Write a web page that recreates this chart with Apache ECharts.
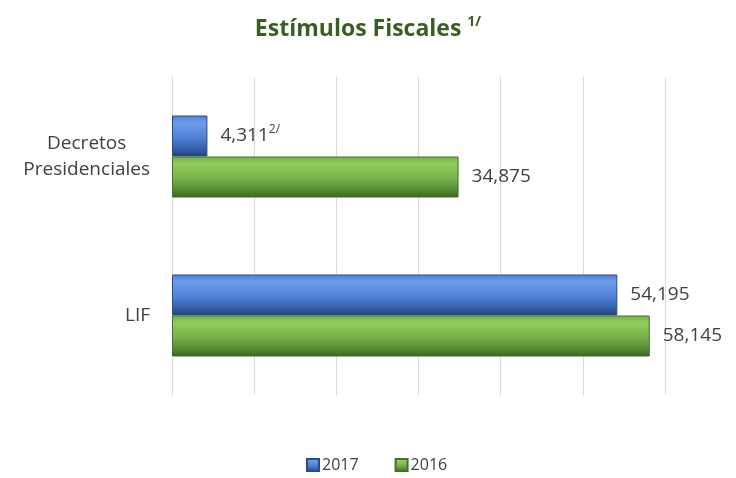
<!DOCTYPE html>
<html>
<head>
<meta charset="utf-8">
<script src="https://cdn.jsdelivr.net/npm/echarts@6/dist/echarts.min.js"></script>
<style>
  html, body { margin: 0; padding: 0; background: #fff; }
  #chart { width: 736px; height: 478px; }
</style>
</head>
<body>
<div id="chart"></div>
<script>
  // categories, top to bottom
  var categories = ['Decretos\nPresidenciales', 'LIF'];
  var seriesNames = ['2017', '2016'];
  var values2017 = [4311, 54195];
  var values2016 = [34875, 58145];
  // footnote marks added to some value labels
  var notes2017 = ['2/', ''];
  var notes2016 = ['', ''];

  var myChart = echarts.init(document.getElementById('chart'));

  function bevel(light, mid, dark, darker) {
    return new echarts.graphic.LinearGradient(0, 0, 0, 1, [
      { offset: 0, color: mid },
      { offset: 0.18, color: light },
      { offset: 0.55, color: mid },
      { offset: 0.82, color: dark },
      { offset: 1, color: darker }
    ]);
  }

  function labelFmt(notes) {
    return function (p) {
      var txt = '{v|' + echarts.format.addCommas(p.value) + '}';
      if (notes[p.dataIndex]) {
        txt += '{sup|' + notes[p.dataIndex] + '}';
      }
      return txt;
    };
  }

  var labelRich = {
    v: { fontFamily: 'Open Sans', fontSize: 19, color: '#404040' },
    sup: { fontFamily: 'Open Sans', fontSize: 12, color: '#404040', padding: [0, 0, 12, 0] }
  };

  var option = {
    animation: false,
    title: {
      text: 'Estímulos Fiscales {s|1/}',
      left: 'center',
      top: 10,
      textStyle: {
        fontFamily: 'Open Sans',
        fontWeight: 'bold',
        fontSize: 23,
        color: '#3a5e21',
        rich: {
          s: { fontFamily: 'Open Sans', fontWeight: 'bold', fontSize: 14, color: '#3a5e21', padding: [0, 0, 14, 0] }
        }
      }
    },
    legend: {
      data: seriesNames,
      bottom: 0,
      left: 301,
      icon: 'rect',
      itemWidth: 12,
      itemHeight: 12,
      itemGap: 36,
      textStyle: { fontFamily: 'Open Sans', fontSize: 16, color: '#404040', padding: [0, 0, 0, -2] }
    },
    grid: {
      left: 172,
      right: 71,
      top: 77,
      bottom: 83
    },
    xAxis: {
      type: 'value',
      min: 0,
      max: 60000,
      interval: 10000,
      axisLabel: { show: false },
      axisLine: { show: false },
      axisTick: { show: false },
      splitLine: { lineStyle: { color: '#d9d9d9', width: 1 } }
    },
    yAxis: {
      type: 'category',
      inverse: true,
      data: categories,
      axisLine: { show: false },
      axisTick: { show: false },
      axisLabel: {
        margin: 22,
        formatter: function (v) {
          return v.split('\n').map(function (s) { return '{a|' + s + '}'; }).join('\n');
        },
        rich: {
          a: { fontFamily: 'Open Sans', fontSize: 19, color: '#404040', align: 'center', lineHeight: 26 }
        }
      }
    },
    series: [{
      name: '2017',
      type: 'bar',
      data: values2017,
      barWidth: 41,
      barGap: '0%',
      itemStyle: {
        color: bevel('#6d9ce9', '#4f80d4', '#345fa8', '#22427a'),
        borderColor: '#2a4b85',
        borderWidth: 1
      },
      label: {
        show: true,
        position: 'right',
        distance: 13,
        formatter: labelFmt(notes2017),
        rich: labelRich
      }
    }, {
      name: '2016',
      type: 'bar',
      data: values2016,
      barWidth: 41,
      itemStyle: {
        color: bevel('#93cd5e', '#74b049', '#568a33', '#3b6124'),
        borderColor: '#466f2b',
        borderWidth: 1
      },
      label: {
        show: true,
        position: 'right',
        distance: 13,
        formatter: labelFmt(notes2016),
        rich: labelRich
      }
    }]
  };

  myChart.setOption(option);
  window.addEventListener('resize', function () {
    myChart.resize();
  });
</script>
</body>
</html>
